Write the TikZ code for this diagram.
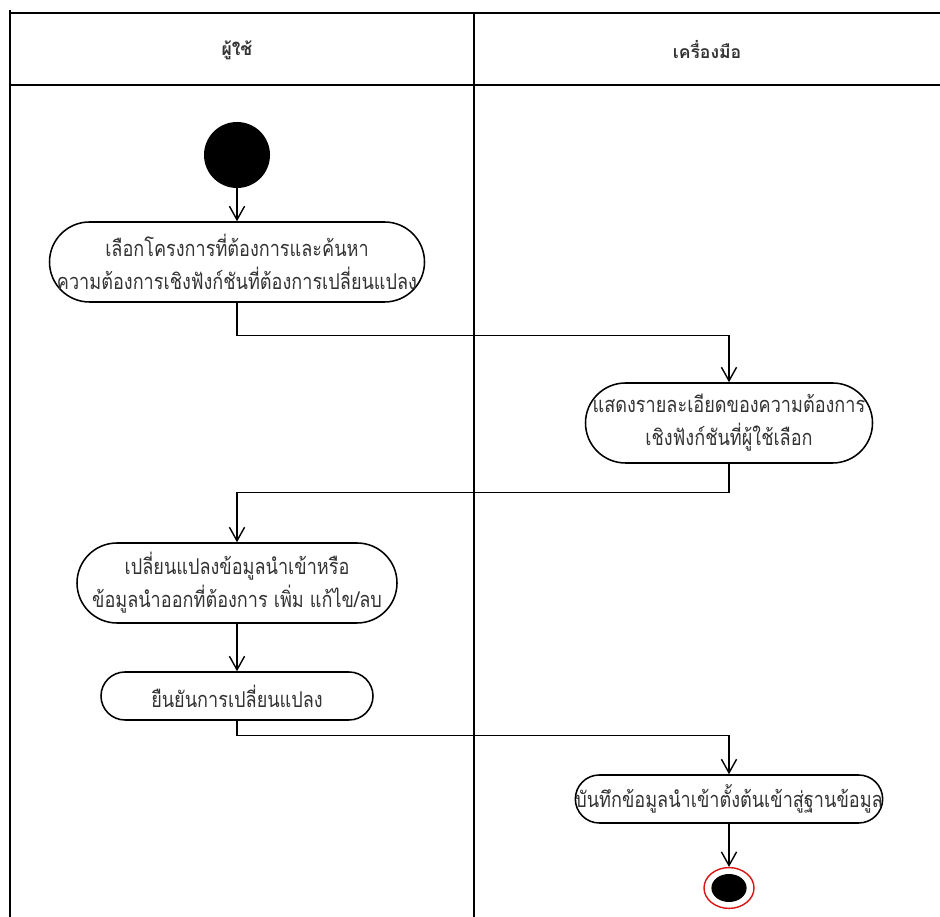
\documentclass[tikz,border=0pt]{standalone}
\usepackage{fontspec}
\usepackage{xcolor}
\usepackage{tikz}
\usetikzlibrary{arrows.meta,positioning,calc,shapes.geometric}
\newfontfamily\thaifont[Script=Thai]{Loma}
\newfontfamily\thaibody[Script=Thai,FakeStretch=0.83]{Loma}
\definecolor{cTxt}{RGB}{ 51, 51, 51}
\definecolor{cEnd}{RGB}{220, 20, 20}
\tikzset{
  act/.style  ={draw=black,line width=1.1pt,rounded corners=1cm,align=center,
                font=\thaibody\fontsize{15.5}{23.5}\selectfont,text=cTxt,
                inner sep=0pt,minimum height=2cm},
  acts/.style ={act,rounded corners=0.6cm,minimum height=1.2cm},
  hdr/.style  ={font=\thaifont\bfseries\fontsize{12.5}{14}\selectfont,text=cTxt},
  lane/.style ={draw=black,line width=1.1pt},
  fl/.style   ={-{Straight Barb[length=3.4mm,width=3.8mm]},draw=black,line width=1pt},
}
\begin{document}
\begin{tikzpicture}[x=1cm,y=1cm]
\useasboundingbox (0,0) rectangle (23.5,22.925);

%% ================= swimlanes =============================================
\draw[lane] (0.25,22.675) -- (0.25,0);
\draw[lane] (0.25,22.6) -- (23.5,22.6);
\draw[lane] (0.25,20.8) -- (23.5,20.8);
\draw[lane] (11.85,22.6) -- (11.85,0);
\node[hdr] (hUser) at (5.925,21.675) {ผู้ใช้};
\node[hdr] (hTool) at (17.675,21.675) {เครื่องมือ};

%% ================= activities ============================================
\node[circle,fill=black,minimum size=1.65cm,inner sep=0pt] (start) at (5.925,19.05) {};
\node[act,minimum width=9.375cm] (sel)  at (5.925,16.375) {เลือกโครงการที่ต้องการและค้นหา\\ความต้องการเชิงฟังก์ชันที่ต้องการเปลี่ยนแปลง};
\node[act,minimum width=7.175cm] (show) at (18.225,12.35) {แสดงรายละเอียดของความต้องการ\\เชิงฟังก์ชันที่ผู้ใช้เลือก};
\node[act,minimum width=8.0cm]   (edit) at (5.925,8.35)  {เปลี่ยนแปลงข้อมูลนำเข้าหรือ\\ข้อมูลนำออกที่ต้องการ เพิ่ม แก้ไข/ลบ};
\node[acts,minimum width=6.8cm]  (conf) at (5.925,5.525) {ยืนยันการเปลี่ยนแปลง};
\node[acts,minimum width=7.6cm]  (save) at (18.225,2.95) {บันทึกข้อมูลนำเข้าตั้งต้นเข้าสู่ฐานข้อมูล};

% final state: red ring round a black disc
\node[ellipse,draw=cEnd,line width=1pt,fill=white,minimum width=1.25cm,minimum height=1.02cm,inner sep=0pt] (fin) at (18.225,0.725) {};
\fill[black] (fin.center) ellipse (0.44 and 0.35);

%% ================= flow ==================================================
\draw[fl] (start.south) -- (sel.north);
\draw[fl] (sel.south)  -- ++(0,-0.825) -| (show.north);
\draw[fl] (show.south) -- ++(0,-0.725) -| (edit.north);
\draw[fl] (edit.south) -- (conf.north);
\draw[fl] (conf.south) -- ++(0,-0.375) -| (save.north);
\draw[fl] (save.south) -- (fin.north);

\end{tikzpicture}
\end{document}
